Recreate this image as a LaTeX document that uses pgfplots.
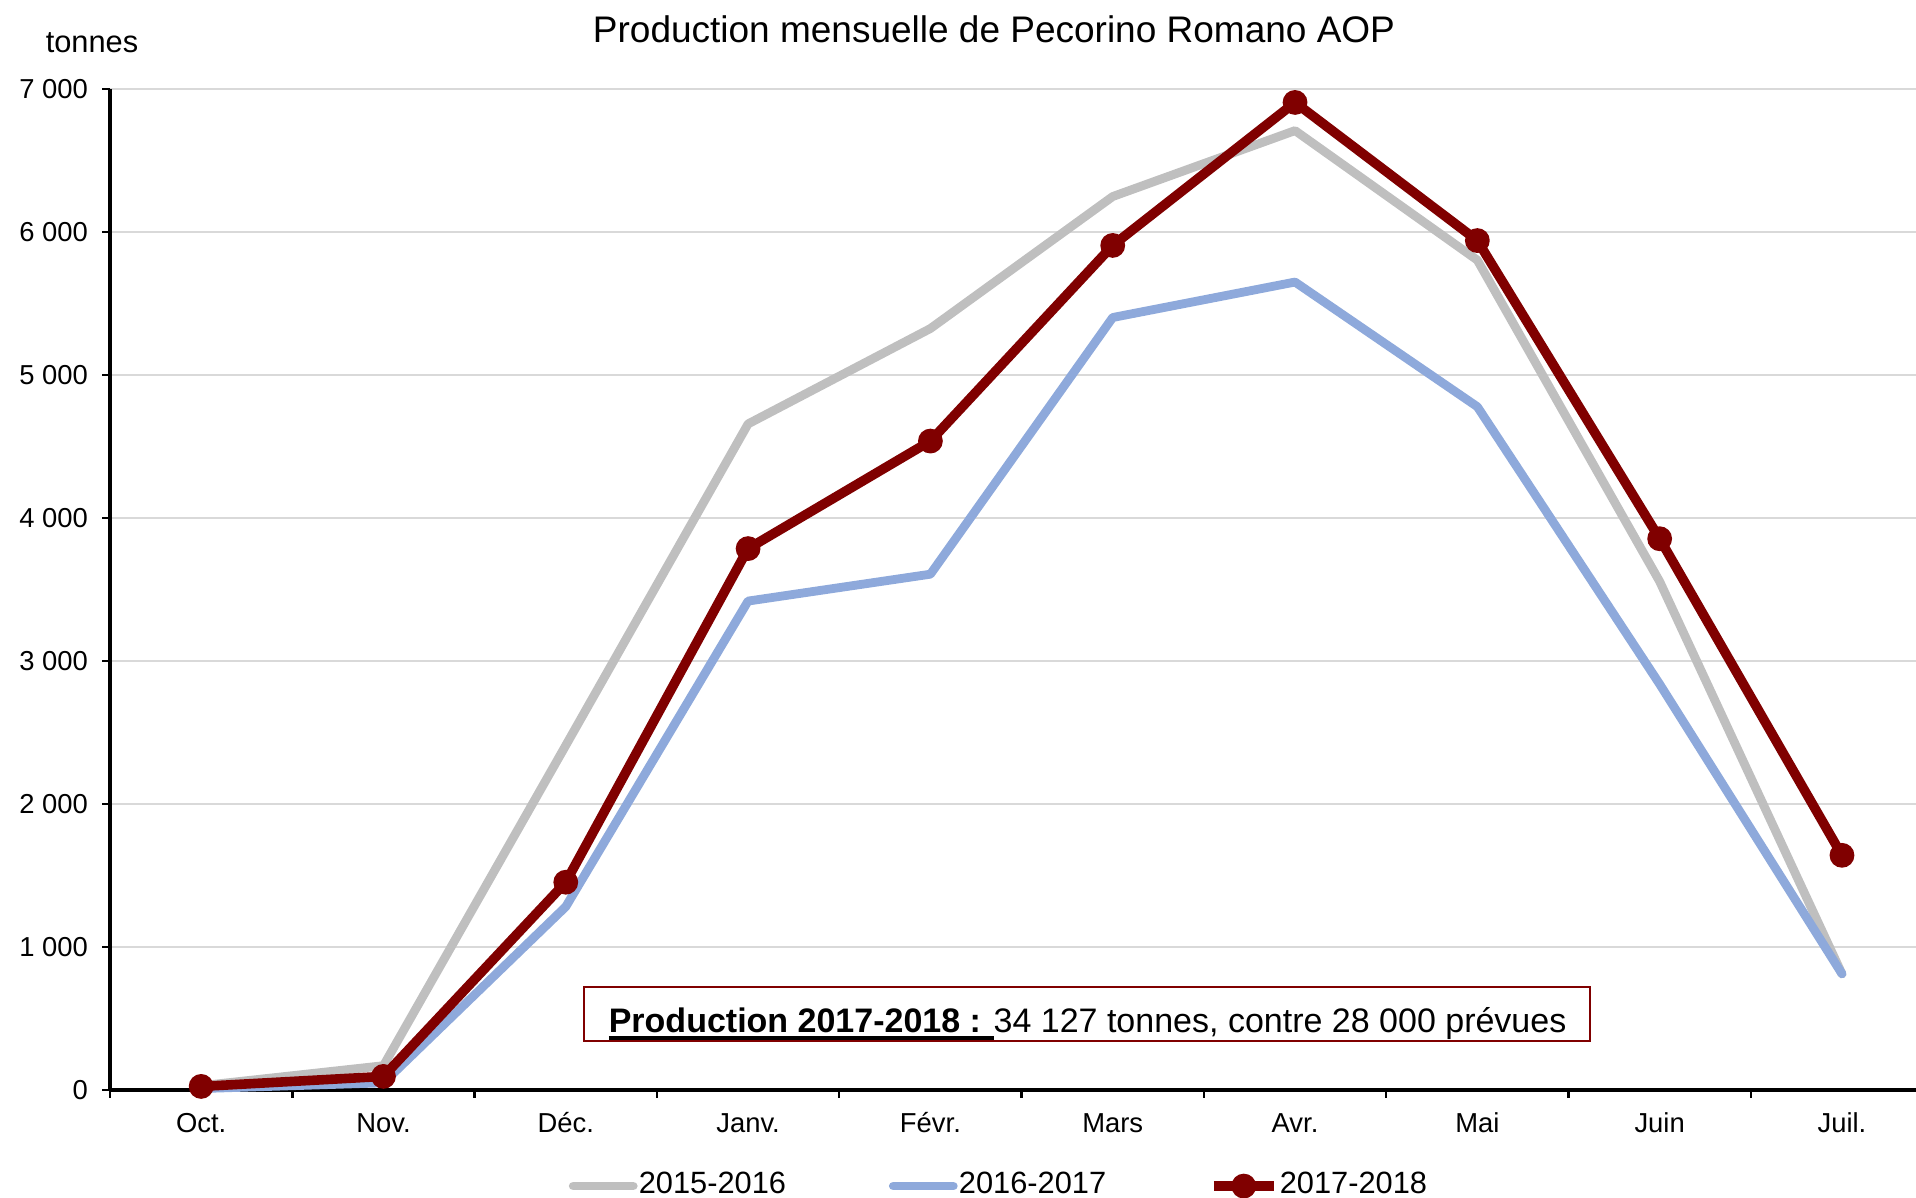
\documentclass[border=0pt]{standalone}
\usepackage{pgfplots}
\pgfplotsset{compat=1.18}
\usepackage{fontspec}
\setmainfont{Liberation Sans}
\definecolor{cgray}{RGB}{191,191,191}
\definecolor{cblue}{RGB}{142,169,219}
\definecolor{cred}{RGB}{128,0,0}
\definecolor{cgrid}{RGB}{217,217,217}
\newcommand{\ulbold}[1]{{\sbox0{#1}\rlap{\rule[-1.75pt]{\wd0}{0.9pt}}\usebox0}}
\begin{document}
\begin{tikzpicture}
\path[use as bounding box] (0,0) rectangle (479pt,299.5pt);
\begin{axis}[
  at={(27.5pt,27pt)}, anchor=south west,
  scale only axis, width=451.5pt, height=250.25pt,
  xmin=-0.5, xmax=9.406, ymin=0, ymax=7000,
  axis x line*=bottom, axis y line*=left,
  axis line style={-, line width=0.9pt, black},
  clip=false,
  ytick={0,1000,...,7000},
  ymajorgrids, grid style={cgrid, line width=0.55pt},
  tick align=outside,
  major tick length=2pt,
  tick style={black, line width=0.6pt},
  xtick={-0.5,0.5,...,8.5}, xticklabels={},
  extra x ticks={0,1,...,9},
  extra x tick labels={Oct.,Nov.,Déc.,Janv.,Févr.,Mars,Avr.,Mai,Juin,Juil.},
  extra x tick style={major tick length=0pt, grid=none},
  /pgf/number format/assume math mode=true,
  /pgf/number format/1000 sep={\ },
  tick label style={font=\fontsize{6.85}{8}\selectfont},
  yticklabel style={xshift=0pt},
  xticklabel style={anchor=base, yshift=-10.75pt},
  legend style={at={(0.492,-0.096)}, anchor=center, draw=none, fill=none,
    legend columns=3, font=\fontsize{7.7}{9}\selectfont,
    /tikz/every odd column/.append style={column sep=0pt},
    /tikz/every even column/.append style={column sep=25.4pt},
    nodes={inner xsep=0.3pt},
    inner sep=0pt},
  legend cell align=left,
  legend image code/.code={\draw[mark repeat=2,mark phase=2,#1] plot coordinates {(0pt,0pt) (7.5pt,0pt) (15pt,0pt)};},
]
\addplot[cgray, line width=2.2pt, line join=round, line cap=round] coordinates {
 (0,30) (1,170) (2,2410) (3,4658) (4,5325) (5,6248) (6,6709) (7,5803) (8,3556) (9,812)};
\addlegendentry{2015-2016}
\addplot[cblue, line width=2.2pt, line join=round, line cap=round] coordinates {
 (0,10) (1,50) (2,1282) (3,3419) (4,3607) (5,5402) (6,5650) (7,4778) (8,2838) (9,812)};
\addlegendentry{2016-2017}
\addplot[cred, line width=2.4pt, line join=round, mark=*, mark size=2.9pt,
  mark options={solid, fill=cred, draw=cred, line width=0.4pt}] coordinates {
 (0,25) (1,95) (2,1453) (3,3786) (4,4538) (5,5906) (6,6906) (7,5940) (8,3855) (9,1641)};
\addlegendentry{2017-2018}
\end{axis}
\node[font=\fontsize{9.25}{11}\selectfont] at (248.5pt,292.25pt) {Production mensuelle de Pecorino Romano AOP};
\node[font=\fontsize{7.7}{9}\selectfont] at (23pt,288.75pt) {tonnes};
\draw[cred, line width=0.45pt, fill=white] (146pt,39.25pt) rectangle (397.5pt,52.75pt);
\node[anchor=base west, inner sep=0pt, font=\fontsize{8.5}{10}\selectfont] at (152pt,41.25pt) {\ulbold{\textbf{Production 2017-2018 : }}34 127 tonnes, contre 28 000 prévues};
\end{tikzpicture}
\end{document}
